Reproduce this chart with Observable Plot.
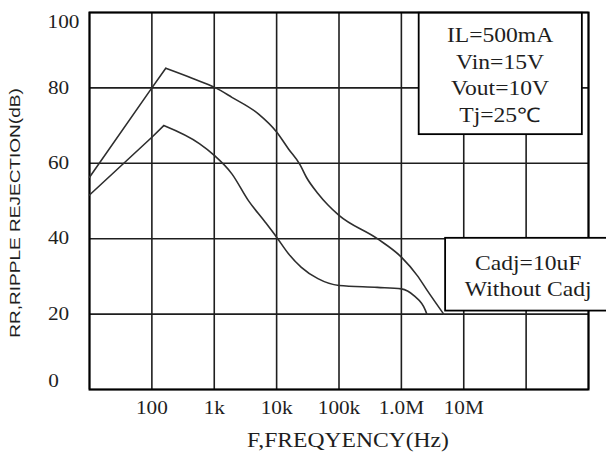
<!DOCTYPE html>
<html>
<head>
<meta charset="utf-8">
<script src="https://cdn.jsdelivr.net/npm/d3@7"></script>
<script src="https://cdn.jsdelivr.net/npm/@observablehq/plot@0.6"></script>
<style>
  html, body { margin: 0; padding: 0; background: #fff; overflow: hidden; }
  #chart svg { display: block; overflow: hidden; }
</style>
</head>
<body>
<div id="chart"></div>
<script>
// ---- data ----
const freqCadj = [10, 100, 167, 452, 1056, 1917, 5090, 10000, 15500, 23800, 30000, 45900, 66000, 100000, 412000, 1000000, 1800000, 2590000, 4770000];
const dbCadj   = [56.3, 80.0, 85.2, 82.5, 80.0, 77.5, 73.1, 68.3, 63.8, 59.6, 56.3, 52.0, 49.0, 46.2, 40.0, 35.1, 30.2, 26.3, 20.0];

const freqNoCadj = [10, 100, 155, 577, 1000, 1917, 3530, 6490, 10000, 15500, 24900, 45900, 100000, 412000, 1000000, 1590000, 2430000, 2560000];
const dbNoCadj   = [51.6, 66.9, 70.0, 65.2, 62.1, 57.2, 50.1, 44.5, 40.4, 36.0, 32.4, 29.4, 27.6, 27.1, 26.7, 24.9, 21.0, 20.0];

const xGrid = [1e1, 1e2, 1e3, 1e4, 1e5, 1e6, 1e7, 1e8, 1e9];
const xTickValues = [1e2, 1e3, 1e4, 1e5, 1e6, 1e7];
const xTickLabels = ["100", "1k", "10k", "100k", "1.0M", "10M"];
const yTicks = [0, 20, 40, 60, 80, 100];

const conditions = ["IL=500mA", "Vin=15V", "Vout=10V", "Tj=25\u2103"];
const seriesNames = ["Cadj=10uF", "Without Cadj"];

const xTitle = "F,FREQYENCY(Hz)";
const yTitle = "RR,RIPPLE REJECTION(dB)";

// ---- build rows ----
function rows(freqs, dbs) {
  return freqs.map((f, i) => ({f, db: dbs[i], i}));
}
const rCadj = rows(freqCadj, dbCadj);
const rNo = rows(freqNoCadj, dbNoCadj);
const pkCadj = d3.maxIndex(dbCadj);
const pkNo = d3.maxIndex(dbNoCadj);

const serif = "'Liberation Serif', 'Times New Roman', serif";
const ink = "#1e1e1e";
const curveInk = "#2e2e2e";

const chart = Plot.plot({
  width: 606,
  height: 455,
  marginLeft: 89,
  marginRight: 18,
  marginTop: 12,
  marginBottom: 66,
  style: {background: "#fff", fontFamily: serif, color: ink},
  x: {type: "log", domain: [10, 1e9], axis: null},
  y: {domain: [0, 100], axis: null},
  marks: [
    Plot.ruleX(xGrid, {stroke: ink, strokeWidth: 1.6}),
    Plot.ruleY(yTicks, {stroke: ink, strokeWidth: 1.6}),
    Plot.frame({stroke: "#000", strokeWidth: 2}),

    // curves: straight rise to the peak, smooth fall afterwards
    Plot.line(rCadj.filter(d => d.i <= pkCadj), {x: "f", y: "db", stroke: curveInk, strokeWidth: 1.6}),
    Plot.line(rCadj.filter(d => d.i >= pkCadj), {x: "f", y: "db", stroke: curveInk, strokeWidth: 1.6, curve: "monotone-x"}),
    Plot.line(rNo.filter(d => d.i <= pkNo), {x: "f", y: "db", stroke: curveInk, strokeWidth: 1.6}),
    Plot.line(rNo.filter(d => d.i >= pkNo), {x: "f", y: "db", stroke: curveInk, strokeWidth: 1.6, curve: "monotone-x"}),

    // condition box
    Plot.rect([0], {x1: 1.93e6, x2: 7.97e8, y1: 67.6, y2: 99.8, fill: "#fff", stroke: "#000", strokeWidth: 1.8}),
    Plot.text([conditions.join("\n")], {x: 3.82e7, y: 83.8, lineAnchor: "middle", lineHeight: 1.33, fontSize: 20, fill: ink}),

    // series label box
    Plot.rect([0], {x1: 5.12e6, x2: 3e9, y1: 20.8, y2: 40.1, fill: "#fff", stroke: "#000", strokeWidth: 1.8}),
    Plot.text([seriesNames.join("\n")], {x: 1.08e8, y: 30.5, lineAnchor: "middle", lineHeight: 1.3, fontSize: 20, fill: ink}),

    // x tick labels
    Plot.text(xTickValues, {x: d => d, y: 0, text: (d, i) => xTickLabels[i], dy: 19, lineAnchor: "middle", fontSize: 18, fill: ink}),
    // y tick labels
    Plot.text(yTicks, {filter: d => d > 0 && d < 100, frameAnchor: "left", y: d => d, text: d => String(d), dx: -31, textAnchor: "middle", lineAnchor: "middle", fontSize: 18, fill: ink}),
    Plot.text(yTicks, {filter: d => d === 100, frameAnchor: "left", y: d => d, text: d => String(d), dx: -26, dy: 10, textAnchor: "middle", lineAnchor: "middle", fontSize: 18, fill: ink}),
    Plot.text(yTicks, {filter: d => d === 0, frameAnchor: "left", y: d => d, text: d => String(d), dx: -36, dy: -8, textAnchor: "middle", lineAnchor: "middle", fontSize: 18, fill: ink}),

    // axis titles
    Plot.text([xTitle], {frameAnchor: "bottom", dx: 9, dy: 51, lineAnchor: "middle", fontSize: 20, fill: ink}),
    Plot.text([yTitle], {frameAnchor: "left", dx: -74, dy: 12, rotate: -90, textAnchor: "middle", lineAnchor: "middle", fontSize: 14, fontFamily: "'Liberation Sans', Arial, sans-serif", fill: ink})
  ]
});

document.getElementById("chart").appendChild(chart);

// the reference lettering is stretched horizontally; widen every label the same way
d3.select(chart).selectAll("text").each(function () {
  const isYTitle = this.textContent === yTitle;
  const s = isYTitle ? 1.36 : 1.18;
  const t = this.getAttribute("transform") || "";
  this.setAttribute("transform", `${t} scale(${s},1)`);
});
</script>
</body>
</html>
